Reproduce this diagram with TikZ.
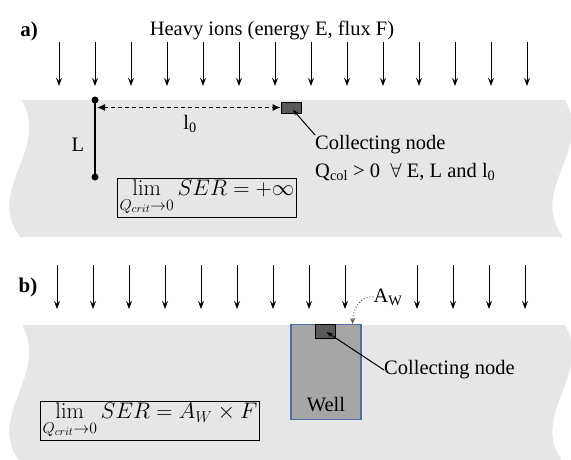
\RequirePackage{fix-cm}
\documentclass[tikz,border=0pt]{standalone}
\usepackage[no-math]{fontspec}
\setmainfont{Liberation Serif}
\usepackage{amsmath,amssymb}
\usetikzlibrary{arrows.meta,positioning}

\definecolor{bandgray}{RGB}{230,230,230}
\definecolor{wellgray}{RGB}{166,166,166}
\definecolor{nodegray}{RGB}{89,89,89}
\definecolor{wellblue}{RGB}{79,111,168}
\definecolor{dotgray}{RGB}{90,90,90}

\begin{document}
\begin{tikzpicture}[x=1pt,y=-1pt,
    ion/.style={line width=1pt,-{Stealth[length=8pt,width=6pt,inset=3pt]}},
    txt/.style={inner sep=0pt,font=\fontsize{20.5}{24}\selectfont},
    panel/.style={inner sep=0pt,font=\fontsize{21}{24}\selectfont\bfseries},
    formula/.style={draw,line width=1pt,inner sep=2pt,font=\fontsize{22.5}{26}\selectfont},
    colnode/.style={draw,fill=nodegray,line width=0.8pt,inner sep=0pt,minimum width=20pt,minimum height=11pt},
    leader/.style={line width=1pt,-{Stealth[length=6pt,width=4.5pt]}}]
          \useasboundingbox (0,0) rectangle (571,460);
          \clip (0,0) rectangle (571,460);
          % wavy bands
          \foreach \dy in {0,225}
            \fill[bandgray] (22,100+\dy) .. controls (50,150+\dy) and (-15,190+\dy) .. (20,237+\dy)
              -- (563,237+\dy) .. controls (528,190+\dy) and (593,150+\dy) .. (565,100+\dy) -- cycle;

          % a)
          \node[panel] (pa) at (29,31) {a)};
          \node[txt] (ions) at (272,30) {Heavy ions (energy E, flux F)};
          \foreach \i in {0,...,13}
            \draw[ion] (59+36*\i,42) -- (59+36*\i,86);
          \coordinate (ltop) at (95,100);
          \coordinate (lbot) at (95,177);
          \draw[line width=2.5pt] (ltop) -- (lbot);
          \fill (ltop) circle (3.5);
          \fill (lbot) circle (3.5);
          \node[txt] (llab) at (78,145) {L};
          \node[colnode] (cna) at (291,107.5) {};
          \draw[line width=1.2pt,dash pattern=on 4pt off 3pt,{Latex[length=8pt,width=7pt]}-{Latex[length=8pt,width=7pt]},shorten <=2pt] (ltop |- cna.west) -- (cna.west);
          \node[txt] (l0) at (190,124) {l\textsubscript{0}};
          \node[txt,anchor=north west] (cnt) at (315,135) {Collecting node};
          \node[txt,anchor=north west] (qcol) at ([yshift=-9pt]cnt.south west) {Q\textsubscript{col} > 0 \ $\forall$ E, L and l\textsubscript{0}};
          \draw[leader,shorten >=3pt] (cnt.north west) -- (cna.center);
          \node[formula] (sera) at (207,198) {$\displaystyle\lim_{Q_{crit}\to 0} SER = +\infty$};

          % b)
          \node[panel] (pb) at (28,287) {b)};
          \foreach \i in {0,...,8,10,11,12,13}
            \draw[ion] (57+36*\i,265) -- (57+36*\i,309);
          \node[draw=wellblue,fill=wellgray,line width=1.2pt,minimum width=70pt,minimum height=95pt] (well) at (326,372) {};
          \node[txt,above=8pt of well.south] (welltxt) {Well};
          \node[colnode,minimum height=14pt] (cnb) at (325,331) {};
          \node[txt,anchor=west] (cntb) at (384,370) {Collecting node};
          \draw[leader,shorten >=2pt] (cntb.west) -- (cnb.center);
          \node[txt] (aw) at (388,297) {A\textsubscript{W}};
          \coordinate (awt) at ([xshift=-9pt]well.north east);
          \draw[dotgray,line width=1pt,dotted,-{Stealth[length=6pt,width=5pt]}] (aw.west) to[out=170,in=90] (awt);
          \node[formula] (serb) at (150,421) {$\displaystyle\lim_{Q_{crit}\to 0} SER = A_W \times F$};
\end{tikzpicture}
\end{document}
